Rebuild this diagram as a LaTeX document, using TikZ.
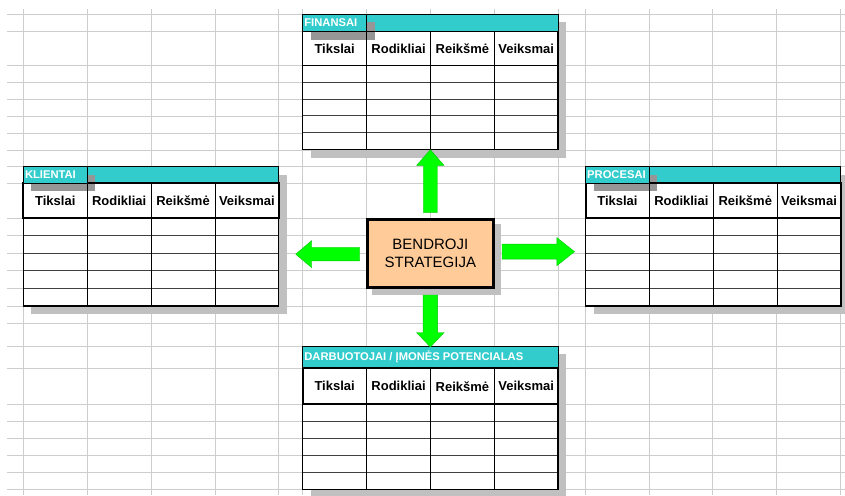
\documentclass[tikz,border=0pt]{standalone}
\usepackage{fontspec}
\setmainfont{Liberation Sans}
\usetikzlibrary{calc}

\definecolor{gridline}{RGB}{205,205,205}
\definecolor{tshade}{RGB}{192,192,192}
\definecolor{cellshade}{RGB}{150,150,150}
\definecolor{titlecyan}{RGB}{51,204,204}
\definecolor{peach}{RGB}{255,204,153}
\definecolor{arrowgreen}{RGB}{0,255,0}
\definecolor{arrowedge}{RGB}{0,200,0}

\tikzset{
  gridrule/.style={draw=gridline, line width=1pt},
  tablebody/.style={fill=white, inner sep=0pt, outer sep=0pt, anchor=north west},
  outline/.style={draw=black, line width=1.3pt},
  rowrule/.style={draw=black!75, line width=1pt},
  colrule/.style={draw=black, line width=1pt},
  headtext/.style={font=\fontsize{13}{15}\selectfont\bfseries, inner sep=0pt},
  titletext/.style={font=\fontsize{11.2}{13}\selectfont\bfseries, text=white, inner sep=0pt, anchor=west},
  stratbox/.style={draw=black, line width=2.8pt, fill=peach, minimum width=126.5pt,
    minimum height=67.9pt, align=center, inner sep=0pt,
    font=\fontsize{15}{18.3}\selectfont},
  arrowbody/.style={fill=arrowgreen, draw=arrowedge, line width=0.4pt, line join=miter},
}

% #1 name, #2 left x, #3 title top, #4 title bottom, #5 header bottom,
% #6 table bottom, #7 title, #8 separate title cell (1/0), #9 header rule width
\newcommand\ktable[9]{%
  \pgfmathsetmacro\kxa{#2+63.9}%
  \pgfmathsetmacro\kxb{#2+127.8}%
  \pgfmathsetmacro\kxc{#2+191.7}%
  \pgfmathsetmacro\kxe{#2+255.4}%
  \pgfmathsetmacro\krh{(#6-#5)/5}%
  \fill[tshade] (#2+8,#3+8) rectangle (\kxe+8,#6+8);
  \node[tablebody, minimum width=255.4pt, minimum height={(#6-#3)*1pt}] (#1) at (#2,#3) {};
  \fill[titlecyan] (#2,#3) rectangle (\kxe,#4);
  \ifnum#8=1 \fill[cellshade] (#2+8,#3+8) rectangle (\kxa+8,#4+8);\fi
  \foreach \k in {1,2,3,4} \draw[rowrule] (#2,{#5+\k*\krh}) -- (\kxe,{#5+\k*\krh});
  \foreach \cx in {\kxa,\kxb,\kxc} \draw[colrule] (\cx,#4) -- (\cx,#6);
  \draw[outline] (#2,#4) rectangle (\kxe,#6);
  \draw[draw=black, line width=1pt] (#2,#3) rectangle (\kxe,#4);
  \draw[draw=black, line width=#9] (#2,#4) rectangle (\kxe,#5);
  \ifnum#8=1 \draw[fill=titlecyan, draw=black, line width=1pt] (#2,#3) rectangle (\kxa,#4);\fi
  \node[titletext] at (#2+1.5,{(#3+#4)/2}) {#7};
  \node[headtext] at ({(#2+\kxa)/2},{(#4+#5)/2}) {Tikslai};
  \node[headtext] at ({(\kxa+\kxb)/2},{(#4+#5)/2}) {Rodikliai};
  \node[headtext] at ({(\kxb+\kxc)/2},{(#4+#5)/2}) {Reikšmė};
  \node[headtext] at ({(\kxc+\kxe)/2},{(#4+#5)/2}) {Veiksmai};
}

% block arrow from coordinate #1 to coordinate #2;
% #3 half shaft width, #4 half head width, #5 head length
\newcommand\garrow[5]{%
  \coordinate (ga-h) at ($(#2)!#5pt!(#1)$);
  \filldraw[arrowbody]
    ($(#1)!#3pt!90:(#2)$) -- ($(ga-h)!#3pt!90:(#2)$) -- ($(ga-h)!#4pt!90:(#2)$)
    -- (#2) -- ($(ga-h)!#4pt!-90:(#2)$) -- ($(ga-h)!#3pt!-90:(#2)$)
    -- ($(#1)!#3pt!-90:(#2)$) -- cycle;
}

\begin{document}
\begin{tikzpicture}[x=1pt, y=-1pt]
\useasboundingbox (0,0) rectangle (845,495);
\fill[white] (0,0) rectangle (845,495);

% worksheet grid
\foreach \x in {23.3,87.3,151,215,278.7,302.7,366.7,430.3,494.3,558.3,585.5,649,712.7,776.7,840.3}
  \draw[gridrule] (\x,9) -- (\x,495);
\foreach \y in {14.3,31.7,65.3,82.3,99.3,116.3,133.3,150.3,166.7,183.3,218.3,235.8,253.3,270.8,288.3,306,323.3,346,368.5,404.2,421.3,438.3,455.3,472.3,489.5}
  \draw[gridrule] (7,\y) -- (845,\y);

% the four perspective tables
\ktable{fin}{302.7}{14.3}{31.7}{65.3}{149.7}{FINANSAI}{1}{1pt}
\ktable{kli}{23.3}{166.7}{183.3}{218.3}{306}{KLIENTAI}{1}{2pt}
\ktable{pro}{585.5}{166.7}{183.3}{218.3}{306}{PROCESAI}{1}{2pt}
\ktable{dar}{302.7}{346}{368.4}{404.1}{489.3}{DARBUOTOJAI / ĮMONĖS POTENCIALAS}{0}{2pt}

% central strategy box
\fill[tshade] (371.7,224.3) rectangle (501,295);
\node[stratbox] (strat) at (430.35,253.65) {BENDROJI\\STRATEGIJA};

% arrows from the strategy to each table
\coordinate (up-s) at ($(strat.north)+(0,-6)$);
\coordinate (up-e) at (strat.north |- fin.south);
\garrow{up-s}{up-e}{7.1}{13.7}{15.7}

\coordinate (dn-s) at ($(strat.south)+(0,6)$);
\coordinate (dn-e) at ($(strat.south |- dar.north)+(0,1)$);
\garrow{dn-s}{dn-e}{7.3}{13.8}{14.5}

\coordinate (lf-s) at ($(strat.west)+(-6,0.5)$);
\coordinate (lf-e) at ($(strat.west -| kli.east)+(17,0.5)$);
\garrow{lf-s}{lf-e}{6.7}{13.5}{16}

\coordinate (rt-s) at ($(strat.east)+(7,-2)$);
\coordinate (rt-e) at ($(strat.east -| pro.west)+(-11,-2)$);
\garrow{rt-s}{rt-e}{7.5}{14}{17.6}
\end{tikzpicture}
\end{document}
